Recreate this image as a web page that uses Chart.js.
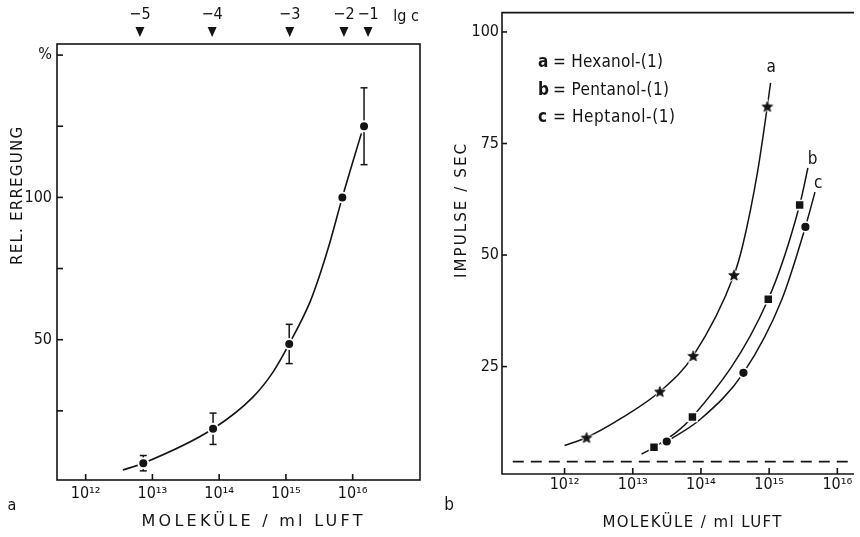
<!DOCTYPE html>
<html><head><meta charset="utf-8">
<script src="https://cdn.jsdelivr.net/npm/chart.js@4.4.0/dist/chart.umd.min.js"></script>
<style>
html,body{margin:0;padding:0;background:#fff;}
#wrap{position:relative;width:860px;height:537px;overflow:hidden;background:#fff;}
.pane{position:absolute;top:0;width:430px;height:537px;}
</style></head><body>
<div id="wrap">
<div class="pane" style="left:0"><canvas id="cA" width="430" height="537"></canvas></div>
<div class="pane" style="left:430px"><canvas id="cB" width="430" height="537"></canvas></div>
</div>
<script>
// ---------- data (panel a) ----------
const lgcLabels = ['\u22125','\u22124','\u22123','\u22122','\u22121'];
const lgcMolecules = [6.5e12, 7.85e13, 1.14e15, 7.4e15, 1.7e16];
const relMolecules = [7.3e12, 8.1e13, 1.12e15, 7.0e15, 1.48e16];
const relValues = [6.6, 18.7, 48.5, 100, 125];
const relErrors = [2.7, 5.5, 6.9, 0, 13.5];
const relCurveX = [3.6e12, 7.3e12, 8.1e13, 3.2e14, 6.4e14, 1.12e15, 2.29e15, 3.24e15, 4.5e15, 7.0e15, 1.35e16];
const relCurveY = [4.2, 6.6, 18.7, 29.8, 38.6, 48.5, 63.2, 73.0, 83.7, 100, 122.5];
const leftYTicks = [25, 50, 75, 100, 125, 150];
const leftYLabels = {50: '50', 100: '100', 150: '%'};
// ---------- data (panel b) ----------
const xTickExps = [12, 13, 14, 15, 16];
const xTickLabels = ['10\u00b9\u00b2', '10\u00b9\u00b3', '10\u00b9\u2074', '10\u00b9\u2075', '10\u00b9\u2076'];
const hexX = [2.1e12, 2.5e13, 7.7e13, 3.05e14, 9.4e14];
const hexY = [9.1, 19.4, 27.4, 45.5, 83.3];
const hexCurveX = [1.0e12, 2.1e12, 7.1e12, 2.5e13, 7.7e13, 3.05e14, 4.1e14, 6.75e14, 9.4e14, 1.05e15];
const hexCurveY = [7.3, 9.1, 13.6, 19.4, 27.4, 45.5, 52.2, 68.6, 83.3, 88.6];
const penX = [2.05e13, 7.5e13, 9.7e14, 2.8e15];
const penY = [6.9, 13.7, 40.1, 61.2];
const penCurveX = [1.35e13, 2.05e13, 7.5e13, 9.7e14, 2.8e15, 3.7e15];
const penCurveY = [5.4, 6.9, 13.7, 40.1, 61.2, 69.5];
const hepX = [3.15e13, 4.2e14, 3.4e15];
const hepY = [8.2, 23.6, 56.3];
const hepCurveX = [2.65e13, 3.15e13, 1.0e14, 4.2e14, 1.54e15, 3.4e15, 4.7e15];
const hepCurveY = [7.5, 8.2, 13.3, 23.6, 40.1, 56.3, 64.1];
const baselineX = [1.74e11, 1.64e16];
const baselineY = [3.7, 3.7];
const rightYTicks = [25, 50, 75, 100];
const legendLetters = ['a', 'b', 'c'];
const legendNames = ['= Hexanol-(1)', '= Pentanol-(1)', '= Heptanol-(1)'];
const curveLabelX = [1.07e15, 4.35e15, 5.25e15];
const curveLabelY = [92.0, 71.5, 66.0];

// ---------- style ----------
const INK = '#141414';
const FONT = '"DejaVu Sans Condensed","DejaVu Sans",sans-serif';
const TFONT = '"DejaVu Sans",sans-serif';

function pts(xs, ys) { return xs.map((x, i) => ({x: x, y: ys[i]})); }
function line(ctx, x1, y1, x2, y2) { ctx.beginPath(); ctx.moveTo(x1, y1); ctx.lineTo(x2, y2); ctx.stroke(); }
function fitLeft(ctx, text, x, y, width, font) {
  ctx.save();
  ctx.font = font; ctx.letterSpacing = '0px';
  const w = ctx.measureText(text).width;
  const n = [...text].length;
  const sp = n > 1 ? (width - w) / (n - 1) : 0;
  ctx.letterSpacing = sp + 'px';
  ctx.textAlign = 'left'; ctx.textBaseline = 'middle';
  ctx.fillText(text, x, y);
  ctx.restore();
}
function fitText(ctx, text, cx, cy, width, font) { fitLeft(ctx, text, cx - width / 2, cy, width, font); }
function makeStar(r) {
  const s = Math.ceil(2 * r + 6);
  const c = document.createElement('canvas'); c.width = s; c.height = s;
  const g = c.getContext('2d'); g.translate(s / 2, s / 2 + 0.5);
  g.beginPath();
  for (let i = 0; i < 10; i++) {
    const rr = i % 2 ? r * 0.45 : r; const a = -Math.PI / 2 + i * Math.PI / 5;
    g.lineTo(rr * Math.cos(a), rr * Math.sin(a));
  }
  g.closePath(); g.lineWidth = 2.5; g.strokeStyle = '#fff'; g.stroke();
  g.fillStyle = INK; g.fill(); g.lineWidth = 0.8; g.strokeStyle = INK; g.stroke();
  return c;
}
const starImg = makeStar(5.6);

const baseOpts = {
  responsive: false, animation: false, devicePixelRatio: 1,
  plugins: {legend: {display: false}, tooltip: {enabled: false}},
  elements: {line: {tension: 0.4, cubicInterpolationMode: 'monotone'}}
};
function logX(min, max, height, pad) {
  return {
    type: 'logarithmic', position: 'bottom', min: min, max: max,
    grid: {display: false, drawTicks: false}, border: {display: false},
    ticks: {color: INK, font: {family: FONT, size: 16}, padding: pad, autoSkip: false, maxRotation: 0, minRotation: 0,
      callback: (v) => xTickLabels[xTickExps.indexOf(Math.round(Math.log10(v)))] || ''},
    afterBuildTicks: (s) => { s.ticks = xTickExps.map(e => ({value: Math.pow(10, e)})); },
    afterFit: (s) => { s.height = height; s.paddingLeft = 0; s.paddingRight = 0; }
  };
}

// ---------- panel a ----------
const decorA = {
  id: 'decorA',
  beforeDatasetsDraw(chart) {
    const {ctx, scales} = chart;
    ctx.save(); ctx.strokeStyle = INK; ctx.lineWidth = 1.5;
    relMolecules.forEach((m, i) => {
      const e = relErrors[i]; if (!e) return;
      const px = scales.x.getPixelForValue(m);
      const yt = scales.y.getPixelForValue(relValues[i] + e);
      const yb = scales.y.getPixelForValue(relValues[i] - e);
      line(ctx, px, yt, px, yb);
      line(ctx, px - 3.5, yt, px + 3.5, yt);
      line(ctx, px - 3.5, yb, px + 3.5, yb);
    });
    ctx.restore();
  },
  afterDatasetsDraw(chart) {
    const {ctx, chartArea: a, scales} = chart;
    ctx.save(); ctx.strokeStyle = INK; ctx.fillStyle = INK; ctx.lineWidth = 1.6;
    ctx.strokeRect(a.left, a.top, a.right - a.left, a.bottom - a.top);
    scales.y.ticks.forEach(t => { const py = scales.y.getPixelForValue(t.value); line(ctx, a.left, py, a.left + 6, py); });
    scales.x.ticks.forEach(t => { const px = scales.x.getPixelForValue(t.value); line(ctx, px, a.bottom, px, a.bottom - 6); });
    lgcMolecules.forEach(v => {
      const px = scales.x2.getPixelForValue(v);
      ctx.beginPath(); ctx.moveTo(px - 4.5, 27); ctx.lineTo(px + 4.5, 27); ctx.lineTo(px, 37); ctx.closePath(); ctx.fill();
    });
    ctx.font = '16px ' + FONT; ctx.textAlign = 'center'; ctx.textBaseline = 'middle';
    ctx.fillText('lg c', 406, 17);
    ctx.fillText('a', 12, 506);
    fitText(ctx, 'MOLEK\u00dcLE / ml LUFT', 252, 522, 221, '16px ' + TFONT);
    ctx.save(); ctx.translate(18, 196); ctx.rotate(-Math.PI / 2);
    fitText(ctx, 'REL. ERREGUNG', 0, 0, 138, '15px ' + TFONT);
    ctx.restore();
    ctx.restore();
  }
};

new Chart(document.getElementById('cA'), {
  type: 'line',
  data: {datasets: [
    {data: pts(relMolecules, relValues), showLine: false, pointStyle: 'circle', pointRadius: 5,
     pointBackgroundColor: INK, pointBorderColor: '#fff', pointBorderWidth: 2, xAxisID: 'x', yAxisID: 'y'},
    {data: pts(relCurveX, relCurveY), borderColor: INK, borderWidth: 1.6, pointRadius: 0, fill: false,
     xAxisID: 'x', yAxisID: 'y'}
  ]},
  options: Object.assign({}, baseOpts, {
    layout: {padding: {left: 0, right: 10, top: 0, bottom: 0}},
    scales: {
      x: logX(3.72e11, 1.02e17, 57, 4),
      x2: {type: 'logarithmic', position: 'top', min: 3.72e11, max: 1.02e17,
        grid: {display: false, drawTicks: false}, border: {display: false},
        ticks: {color: INK, font: {family: FONT, size: 16}, padding: 20, autoSkip: false, maxRotation: 0,
          callback: (v, i) => lgcLabels[i]},
        afterBuildTicks: (s) => { s.ticks = lgcMolecules.map(v => ({value: v})); },
        afterFit: (s) => { s.height = 44; s.paddingLeft = 0; s.paddingRight = 0; }},
      y: {type: 'linear', min: 0.7, max: 153.9,
        grid: {display: false, drawTicks: false}, border: {display: false},
        ticks: {color: INK, font: {family: FONT, size: 16}, padding: 5,
          callback: (v) => leftYLabels[v] || ''},
        afterBuildTicks: (s) => { s.ticks = leftYTicks.map(v => ({value: v})); },
        afterFit: (s) => { s.width = 57; }}
    }
  }),
  plugins: [decorA]
});

// ---------- panel b ----------
const decorB = {
  id: 'decorB',
  afterDatasetsDraw(chart) {
    const {ctx, chartArea: a, scales} = chart;
    ctx.save(); ctx.strokeStyle = INK; ctx.fillStyle = INK; ctx.lineWidth = 1.6;
    ctx.beginPath(); ctx.moveTo(a.right + 2, a.top); ctx.lineTo(a.left, a.top); ctx.lineTo(a.left, a.bottom); ctx.lineTo(a.right + 2, a.bottom); ctx.stroke();
    scales.y.ticks.forEach(t => { const py = scales.y.getPixelForValue(t.value); line(ctx, a.left, py, a.left + 5, py); });
    scales.x.ticks.forEach(t => { const px = scales.x.getPixelForValue(t.value); line(ctx, px, a.bottom, px, a.bottom - 6); });
    // legend text
    const ly = [63, 91, 118];
    const lw = [110, 116, 122];
    legendLetters.forEach((l, i) => {
      ctx.font = 'bold 17px ' + FONT; ctx.textAlign = 'left'; ctx.textBaseline = 'middle';
      ctx.fillText(l, 538 - 430, ly[i]);
      fitLeft(ctx, legendNames[i], 553 - 430, ly[i], lw[i], '17px ' + FONT);
    });
    ctx.font = '17px ' + FONT; ctx.textAlign = 'center'; ctx.textBaseline = 'middle';
    legendLetters.forEach((l, i) => {
      ctx.fillText(l, scales.x.getPixelForValue(curveLabelX[i]), scales.y.getPixelForValue(curveLabelY[i]));
    });
    ctx.fillText('b', 449 - 430, 506);
    fitText(ctx, 'MOLEK\u00dcLE / ml LUFT', 692 - 430, 523, 179, '15px ' + TFONT);
    ctx.save(); ctx.translate(462 - 430, 211); ctx.rotate(-Math.PI / 2);
    fitText(ctx, 'IMPULSE / SEC', 0, 0, 134, '15px ' + TFONT);
    ctx.restore();
    ctx.restore();
  }
};

new Chart(document.getElementById('cB'), {
  type: 'line',
  data: {datasets: [
    {data: pts(hexX, hexY), showLine: false, pointStyle: starImg, pointRadius: 6},
    {data: pts(penX, penY), showLine: false, pointStyle: 'rect', pointRadius: 6.4,
     pointBackgroundColor: INK, pointBorderColor: '#fff', pointBorderWidth: 1.6},
    {data: pts(hepX, hepY), showLine: false, pointStyle: 'circle', pointRadius: 5,
     pointBackgroundColor: INK, pointBorderColor: '#fff', pointBorderWidth: 1.8},
    {data: pts(hexCurveX, hexCurveY), borderColor: INK, borderWidth: 1.5, pointRadius: 0, fill: false},
    {data: pts(penCurveX, penCurveY), borderColor: INK, borderWidth: 1.5, pointRadius: 0, fill: false},
    {data: pts(hepCurveX, hepCurveY), borderColor: INK, borderWidth: 1.5, pointRadius: 0, fill: false},
    {data: pts(baselineX, baselineY), borderColor: INK, borderWidth: 1.6, borderDash: [11, 7], pointRadius: 0, fill: false, tension: 0}
  ]},
  options: Object.assign({}, baseOpts, {
    layout: {padding: {left: 0, right: 0, top: 12, bottom: 0}},
    scales: {
      x: logX(1.21e11, 1.64e16, 63, 1),
      y: {type: 'linear', min: 0.92, max: 104.34,
        grid: {display: false, drawTicks: false}, border: {display: false},
        ticks: {color: INK, font: {family: FONT, size: 16}, padding: 3, callback: (v) => String(v)},
        afterBuildTicks: (s) => { s.ticks = rightYTicks.map(v => ({value: v})); },
        afterFit: (s) => { s.width = 72; }}
    }
  }),
  plugins: [decorB]
});
</script>
</body></html>
